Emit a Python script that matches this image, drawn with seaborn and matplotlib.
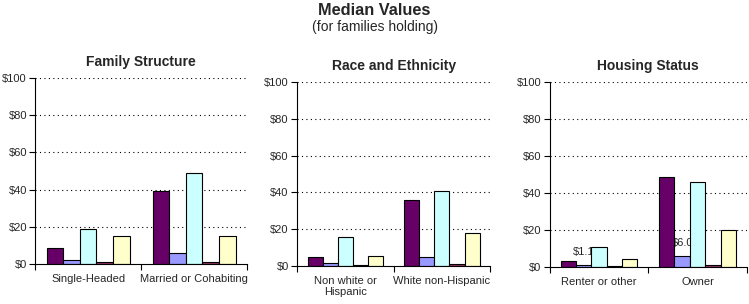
import pandas as pd
import matplotlib.pyplot as plt
import seaborn as sns

# Values for each panel (5 series per category)
series = ['s1', 's2', 's3', 's4', 's5']
colors = ['#660066', '#9999FF', '#CCFFFF', '#993366', '#FFFFCC']

fam_cats = ['Single-Headed', 'Married or Cohabiting']
fam_vals = [[8.6, 2.2, 18.8, 1.1, 15.0],
            [39.2, 5.9, 48.9, 1.1, 15.0]]

race_cats = ['Non white or\nHispanic', 'White non-Hispanic']
race_vals = [[5.1, 1.8, 15.9, 0.7, 5.6],
             [36.0, 5.1, 40.9, 1.3, 18.1]]

house_cats = ['Renter or other', 'Owner']
house_vals = [[3.4, 1.1, 11.0, 0.7, 4.5],
              [48.5, 6.0, 46.1, 1.3, 20.2]]
house_labels = {(0, 1): '$1.1', (1, 1): '$6.0'}

panels = [('Family Structure', fam_cats, fam_vals, [0.047, 0.132, 0.283, 0.611]),
          ('Race and Ethnicity', race_cats, race_vals, [0.3965, 0.125, 0.258, 0.605]),
          ('Housing Status', house_cats, house_vals, [0.734, 0.122, 0.263, 0.608])]

sns.set_style('white')
plt.rcParams['font.family'] = ['Liberation Sans', 'DejaVu Sans']

fig = plt.figure(figsize=(7.49, 3.04), dpi=100)
fig.text(0.5, 0.966, 'Median Values', ha='center', va='center',
         fontsize=11.8, fontweight='bold')
fig.text(0.5, 0.911, '(for families holding)', ha='center', va='center',
         fontsize=10)

for title, cats, vals, pos in panels:
    ax = fig.add_axes(pos)
    rows = []
    for c, v in zip(cats, vals):
        for s, val in zip(series, v):
            rows.append({'cat': c, 'series': s, 'value': val})
    df = pd.DataFrame(rows)

    # dotted gridlines
    for g in [20, 40, 60, 80, 100]:
        ax.axhline(g, color='black', linestyle=(0, (1, 3)), linewidth=0.8, zorder=0)

    sns.barplot(data=df, x='cat', y='value', hue='series', order=cats,
                hue_order=series, palette=colors, saturation=1, width=0.78,
                gap=0, edgecolor='black', linewidth=0.8, legend=False, ax=ax,
                zorder=3)

    if title == 'Housing Status':
        bars = ax.patches
        for (ci, si), lab in house_labels.items():
            b = bars[si * len(cats) + ci]
            ax.text(b.get_x() + b.get_width() / 2, b.get_height() + 4.0, lab,
                    ha='center', va='bottom', fontsize=8, zorder=2)

    ax.set_xlim(-0.5, 1.5)
    ax.set_ylim(0, 100)
    ax.set_yticks([0, 20, 40, 60, 80, 100])
    ax.set_yticklabels(['$0', '$20', '$40', '$60', '$80', '$100'])
    ax.set_xticks([-0.5, 0.5, 1.5])
    ax.set_xticklabels([])
    ax.set_xticks([0, 1], minor=True)
    ax.set_xticklabels(cats, minor=True)
    ax.tick_params(axis='x', which='major', direction='out', length=4,
                   width=0.8, color='black', bottom=True)
    ax.tick_params(axis='x', which='minor', length=0, labelsize=8, pad=7)
    ax.tick_params(axis='y', direction='out', length=4, width=0.8,
                   color='black', left=True, labelsize=8, pad=2)
    ax.set_xlabel('')
    ax.set_ylabel('')
    ax.set_title(title, fontsize=10, fontweight='bold', pad=9)
    for side in ['top', 'right']:
        ax.spines[side].set_visible(False)
    for side in ['left', 'bottom']:
        ax.spines[side].set_color('black')
        ax.spines[side].set_linewidth(0.8)
        ax.spines[side].set_zorder(5)

fig.savefig('out.png', dpi=100)
